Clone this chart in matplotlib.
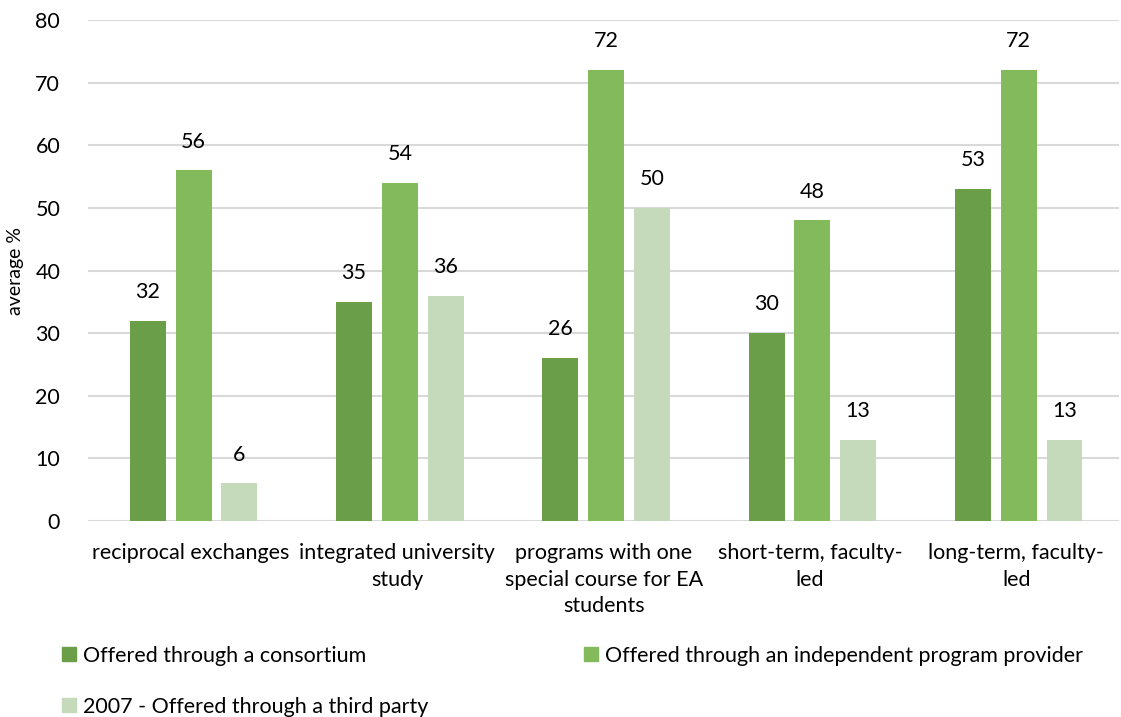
import numpy as np
import matplotlib.pyplot as plt
from matplotlib.patches import Patch

# ==========================================================
# Data
# ==========================================================

categories = [
    "reciprocal exchanges",
    "integrated university\nstudy",
    "programs with one\nspecial course for EA\nstudents",
    "short-term, faculty-\nled",
    "long-term, faculty-\nled",
]

consortium = [32, 35, 26, 30, 53]
independent = [56, 54, 72, 48, 72]
third_party = [6, 36, 50, 13, 13]

series_names = [
    "Offered through a consortium",
    "Offered through an independent program provider",
    "2007 - Offered through a third party",
]

colors = ["#6B9E49", "#82BA5C", "#C4DABB"]

# ==========================================================
# Figure
# ==========================================================

plt.rcParams["font.family"] = ["Lato", "DejaVu Sans"]
fs = 15.5

fig = plt.figure(figsize=(11.21, 7.17), dpi=100)
ax = fig.add_axes([0.0785, 0.2734, 0.92, 0.6986])

x = np.arange(len(categories))
width = 0.174
offset = 0.222

for i, (vals, col) in enumerate(zip([consortium, independent, third_party], colors)):
    pos = x + (i - 1) * offset + 0.012
    ax.bar(pos, vals, width=width, color=col, zorder=3)
    for p, v in zip(pos, vals):
        ax.text(p, v + 3.0, str(v), ha="center", va="bottom", fontsize=fs)

ax.set_xlim(-0.5, len(categories) - 0.5)
ax.set_ylim(0, 80)
ax.set_yticks(range(0, 81, 10))
ax.tick_params(axis="y", length=0, labelsize=fs, pad=20)
ax.tick_params(axis="x", length=0, labelsize=fs, pad=16)
ax.set_xticks(x)
ax.set_xticklabels(categories, linespacing=1.4)

ax.grid(axis="y", color="#D9D9D9", linewidth=1.5, zorder=0)
for s in ax.spines.values():
    s.set_visible(False)

ax.set_ylabel("average %", fontsize=14, labelpad=8)

# ==========================================================
# Legend
# ==========================================================

handles = [Patch(color=c) for c in colors]
order = [0, 2, 1]
fig.legend(
    [handles[k] for k in order],
    [series_names[k] for k in order],
    loc="upper left",
    bbox_to_anchor=(0.048, 0.1116),
    ncol=2,
    frameon=False,
    fontsize=fs,
    handlelength=0.65,
    handleheight=0.65,
    handletextpad=0.3,
    columnspacing=7.25,
    labelspacing=1.44,
    borderaxespad=0,
)

plt.savefig("out.png", dpi=100)
